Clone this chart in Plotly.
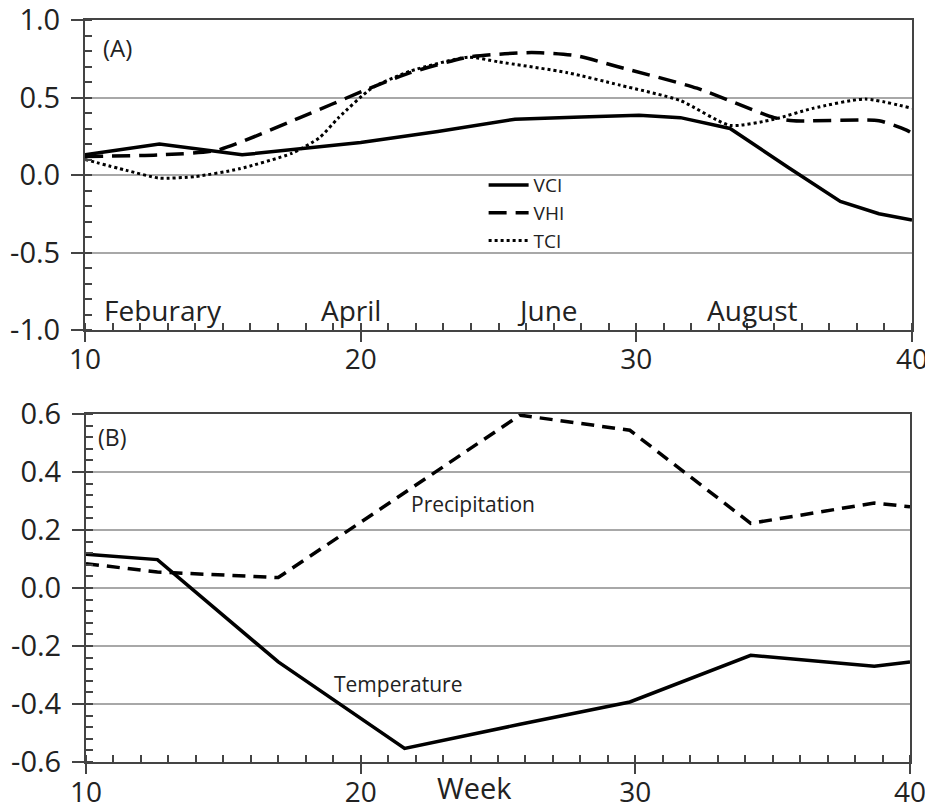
import plotly.graph_objects as go

# ---------------- data ----------------
# Panel A
vci_weeks = [10, 12.7, 15.7, 17.8, 20, 22.8, 25.6, 28, 30.1, 31.6, 33.4, 35.5, 37.4, 38.8, 40]
vci_vals = [0.13, 0.20, 0.13, 0.17, 0.21, 0.28, 0.36, 0.375, 0.385, 0.37, 0.30, 0.05, -0.17, -0.25, -0.29]

vhi_weeks = [10, 12.7, 14.8, 17.8, 20.2, 21.8, 23.9, 26.2, 27.8, 29.3, 32.2, 35.0, 35.7, 38.8, 39.8, 40]
vhi_vals = [0.12, 0.13, 0.16, 0.37, 0.55, 0.66, 0.76, 0.79, 0.77, 0.70, 0.56, 0.37, 0.35, 0.35, 0.29, 0.27]

tci_weeks = [10, 11.5, 12.7, 14, 15.6, 17.5, 18.5, 19.2, 20.4, 21.8, 23.9, 25, 27.5, 29.4, 31.6, 33.4, 35, 36.4, 38.3, 40]
tci_vals = [0.10, 0.03, -0.02, -0.01, 0.04, 0.14, 0.24, 0.37, 0.56, 0.67, 0.76, 0.73, 0.66, 0.58, 0.48, 0.32, 0.36, 0.43, 0.49, 0.43]

# Panel B
temp_weeks = [10, 12.6, 17.0, 21.6, 25.8, 29.8, 34.2, 38.7, 40]
temp_vals = [0.116, 0.098, -0.255, -0.553, -0.47, -0.393, -0.232, -0.27, -0.255]

prec_weeks = [10, 12.6, 17.0, 21.6, 25.8, 29.8, 34.2, 38.7, 40]
prec_vals = [0.084, 0.055, 0.036, 0.33, 0.596, 0.544, 0.223, 0.293, 0.28]

# tick labels
x_tickvals = [10, 20, 30, 40]
x_ticktext = ["10", "20", "30", "40"]
ya_tickvals = [-1.0, -0.5, 0.0, 0.5, 1.0]
ya_ticktext = ["-1.0", "-0.5", "0.0", "0.5", "1.0"]
yb_tickvals = [-0.6, -0.4, -0.2, 0.0, 0.2, 0.4, 0.6]
yb_ticktext = ["-0.6", "-0.4", "-0.2", "0.0", "0.2", "0.4", "0.6"]

# month labels in panel A
month_labels = ["Feburary", "April", "June", "August"]
month_weeks = [12.83, 19.65, 26.76, 34.23]

FONT = "Open Sans"
AXIS_COLOR = "#444444"
GRID_COLOR = "#a8a8a8"

fig = go.Figure()

fig.add_trace(go.Scatter(x=vci_weeks, y=vci_vals, name="VCI", mode="lines",
                         line=dict(color="black", width=3.5), xaxis="x", yaxis="y"))
fig.add_trace(go.Scatter(x=vhi_weeks, y=vhi_vals, name="VHI", mode="lines",
                         line=dict(color="black", width=3.5, dash="18px,9px", shape="spline", smoothing=0.6),
                         xaxis="x", yaxis="y"))
fig.add_trace(go.Scatter(x=tci_weeks, y=tci_vals, name="TCI", mode="lines",
                         line=dict(color="black", width=3, dash="3px,3px", shape="spline", smoothing=0.6),
                         xaxis="x", yaxis="y"))

fig.add_trace(go.Scatter(x=temp_weeks, y=temp_vals, name="Temperature", mode="lines", showlegend=False,
                         line=dict(color="black", width=3.5), xaxis="x2", yaxis="y2"))
fig.add_trace(go.Scatter(x=prec_weeks, y=prec_vals, name="Precipitation", mode="lines", showlegend=False,
                         line=dict(color="black", width=3.5, dash="13px,8px"), xaxis="x2", yaxis="y2"))

common_x = dict(range=[10, 40], tickvals=x_tickvals, ticktext=x_ticktext, automargin=False,
                ticks="outside", ticklen=10, tickwidth=2, tickcolor=AXIS_COLOR,
                ticklabeloverflow="allow",
                minor=dict(ticks="inside", ticklen=7, tickwidth=1.5, tickcolor=AXIS_COLOR, dtick=1, tick0=10, showgrid=False),
                showline=True, linecolor=AXIS_COLOR, linewidth=2, mirror=True,
                showgrid=False, zeroline=False,
                tickfont=dict(family=FONT, size=28, color="#222222"))
common_y = dict(ticks="outside", ticklen=12, tickwidth=2, tickcolor=AXIS_COLOR, automargin=False,
                ticklabelstandoff=5, ticklabeloverflow="allow",
                showline=True, linecolor=AXIS_COLOR, linewidth=2, mirror=True,
                showgrid=True, gridcolor=GRID_COLOR, gridwidth=2, zeroline=False,
                tickfont=dict(family=FONT, size=29, color="#222222"))

# the page body adds an 8px offset; the figure is sized so that it ends at the window edge
fig.update_layout(
    width=925, height=800,
    margin=dict(l=77, r=21, t=12, b=46, autoexpand=False),
    paper_bgcolor="white", plot_bgcolor="white",
    font=dict(family=FONT, color="#222222"),
    xaxis=dict(domain=[0, 1], anchor="y", ticklabelstandoff=-7, **common_x),
    yaxis=dict(domain=[0.5822, 1.0], anchor="x", range=[-1, 1],
               tickvals=ya_tickvals, ticktext=ya_ticktext,
               minor=dict(ticks="inside", ticklen=7, tickwidth=1.5, tickcolor=AXIS_COLOR, dtick=0.1, tick0=0, showgrid=False),
               **common_y),
    xaxis2=dict(domain=[0.0012, 0.9976], anchor="y2", ticklabelstandoff=-6, **common_x),
    yaxis2=dict(domain=[0, 0.469], anchor="x2", range=[-0.6, 0.6],
                tickvals=yb_tickvals, ticktext=yb_ticktext,
                minor=dict(ticks="inside", ticklen=7, tickwidth=1.5, tickcolor=AXIS_COLOR, dtick=0.04, tick0=0, showgrid=False),
                **common_y),
    showlegend=True,
    legend=dict(x=0.482, y=0.803, xanchor="left", yanchor="top",
                bgcolor="rgba(255,255,255,0)", borderwidth=0,
                font=dict(family=FONT, size=19, color="#222222"),
                itemwidth=40, tracegroupgap=0),
)

annotations = []
annotations.append(dict(text="(A)", x=11.19, y=0.82, xref="x", yref="y", showarrow=False,
                        font=dict(family=FONT, size=24, color="#222222"), xanchor="center", yanchor="middle"))
annotations.append(dict(text="(B)", x=10.95, y=0.52, xref="x2", yref="y2", showarrow=False,
                        font=dict(family=FONT, size=23, color="#222222"), xanchor="center", yanchor="middle"))
for lbl, wk in zip(month_labels, month_weeks):
    annotations.append(dict(text=lbl, x=wk, y=-0.87, xref="x", yref="y", showarrow=False,
                            font=dict(family=FONT, size=28, color="#222222"), xanchor="center", yanchor="middle"))
annotations.append(dict(text="Precipitation", x=24.1, y=0.29, xref="x2", yref="y2", showarrow=False,
                        font=dict(family=FONT, size=21, color="#222222"), xanchor="center", yanchor="middle"))
annotations.append(dict(text="Temperature", x=21.35, y=-0.33, xref="x2", yref="y2", showarrow=False,
                        font=dict(family=FONT, size=21, color="#222222"), xanchor="center", yanchor="middle"))
annotations.append(dict(text="Week", x=(474 - 85) / 827, y=-0.034, xref="paper", yref="paper", showarrow=False,
                        font=dict(family=FONT, size=29, color="#222222"), xanchor="center", yanchor="middle"))
fig.update_layout(annotations=annotations)

fig.write_html("out.html")
